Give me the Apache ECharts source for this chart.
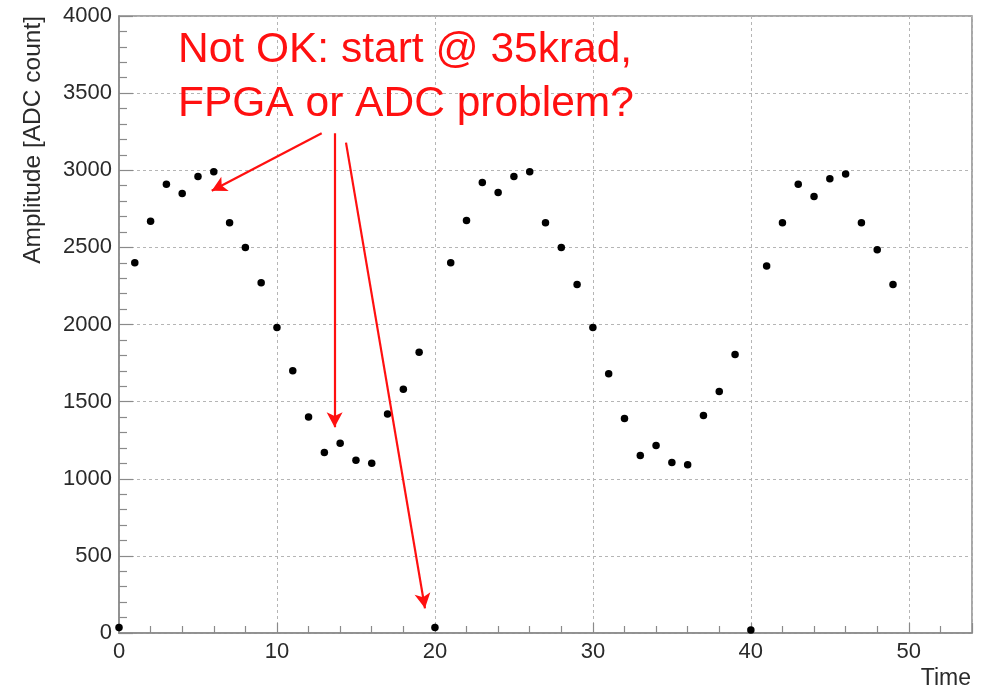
<!DOCTYPE html>
<html>
<head>
<meta charset="utf-8">
<script src="https://cdn.jsdelivr.net/npm/echarts@6/dist/echarts.min.js"></script>
<style>html,body{margin:0;padding:0;background:#fff}#c{width:981px;height:691px}</style>
</head>
<body>
<div id="c"></div>
<script>
// Data
const times = [0,1,2,3,4,5,6,7,8,9,10,11,12,13,14,15,16,17,18,19,20,21,22,23,24,25,26,27,28,29,30,31,32,33,34,35,36,37,38,39,40,41,42,43,44,45,46,47,48,49];
const amplitudes = [35,2400,2670,2910,2850,2960,2990,2660,2500,2270,1980,1700,1400,1170,1230,1120,1100,1420,1580,1820,
                    35,2400,2675,2920,2855,2960,2990,2660,2500,2260,1980,1680,1390,1150,1215,1105,1090,1410,1565,1805,
                    20,2380,2660,2910,2830,2945,2975,2660,2485,2260];
const xTicks = [0,10,20,30,40,50];
const yTicks = [0,500,1000,1500,2000,2500,3000,3500,4000];
const annotationLines = ["Not OK: start @ 35krad,", "FPGA or ADC problem?"];
// arrows in data coordinates: [fromX, fromY, toX, toY]
const arrows = [
  [12.83, 3240, 5.87, 2867],
  [13.65, 3240, 13.65, 1334],
  [14.37, 3179, 19.37, 160]
];
const xTitle = "Time";
const yTitle = "Amplitude [ADC count]";

const chart = echarts.init(document.getElementById('c'), null, {renderer:'canvas'});
const FONT = 'Liberation Sans, Arial, Helvetica, sans-serif';
const axisGray = '#8a8a8a';
const option = {
  animation: false,
  backgroundColor: '#fff',
  grid: {left:119, right:9, top:16, bottom:58, show:true, borderColor:axisGray, borderWidth:1.5, backgroundColor:'transparent'},
  xAxis: {
    type:'value', min:0, max:54, interval:10,
    axisLine:{show:true, onZero:false, lineStyle:{color:axisGray, width:1.5}},
    axisTick:{show:true, inside:true, length:10, lineStyle:{color:axisGray, width:1.2}},
    minorTick:{show:true, splitNumber:5, length:7, lineStyle:{color:axisGray, width:1.2}},
    splitLine:{show:true, lineStyle:{color:'#b5b5b5', type:[3,3], width:1}},
    axisLabel:{fontFamily:FONT, fontSize:22, color:'#2a2a2a', margin:8,
      formatter: v => xTicks.includes(v) ? String(v) : ''}
  },
  yAxis: {
    type:'value', min:0, max:4000, interval:500,
    axisLine:{show:true, onZero:false, lineStyle:{color:axisGray, width:1.5}},
    axisTick:{show:true, inside:true, length:14, lineStyle:{color:axisGray, width:1.2}},
    minorTick:{show:true, splitNumber:5, length:8, lineStyle:{color:axisGray, width:1.2}},
    splitLine:{show:true, lineStyle:{color:'#b5b5b5', type:[3,3], width:1}},
    axisLabel:{fontFamily:FONT, fontSize:22, color:'#2a2a2a', margin:7,
      formatter: v => yTicks.includes(v) ? String(v) : ''}
  },
  series: [
    {
      type:'scatter', symbol:'circle', symbolSize:7.5,
      itemStyle:{color:'#000', opacity:1},
      data: times.map((t,i)=>[t, amplitudes[i]]),
      z:3
    },
    {
      type:'line', data:[], silent:true,
      markLine:{
        silent:true, animation:false,
        symbol:['none','arrow'], symbolSize:[12,15],
        lineStyle:{color:'#ff1010', width:2.2, type:'solid'},
        label:{show:false},
        data: arrows.map(a => [{coord:[a[0],a[1]]},{coord:[a[2],a[3]]}])
      }
    }
  ],
  graphic: [
    {type:'text', left:178, top:29, style:{text:annotationLines[0], font:'42.5px '+FONT, fill:'#ff1010'}, z:10},
    {type:'text', left:178, top:83, style:{text:annotationLines[1], font:'42.5px '+FONT, fill:'#ff1010'}, z:10},
    {type:'text', x:971, y:679, style:{text:xTitle, font:'23px '+FONT, fill:'#2a2a2a', align:'right', verticalAlign:'middle'}},
    {type:'text', x:33, y:16, rotation:Math.PI/2, style:{text:yTitle, font:'24.5px '+FONT, fill:'#2a2a2a', align:'right', verticalAlign:'middle'}}
  ]
};
chart.setOption(option);
</script>
</body>
</html>
